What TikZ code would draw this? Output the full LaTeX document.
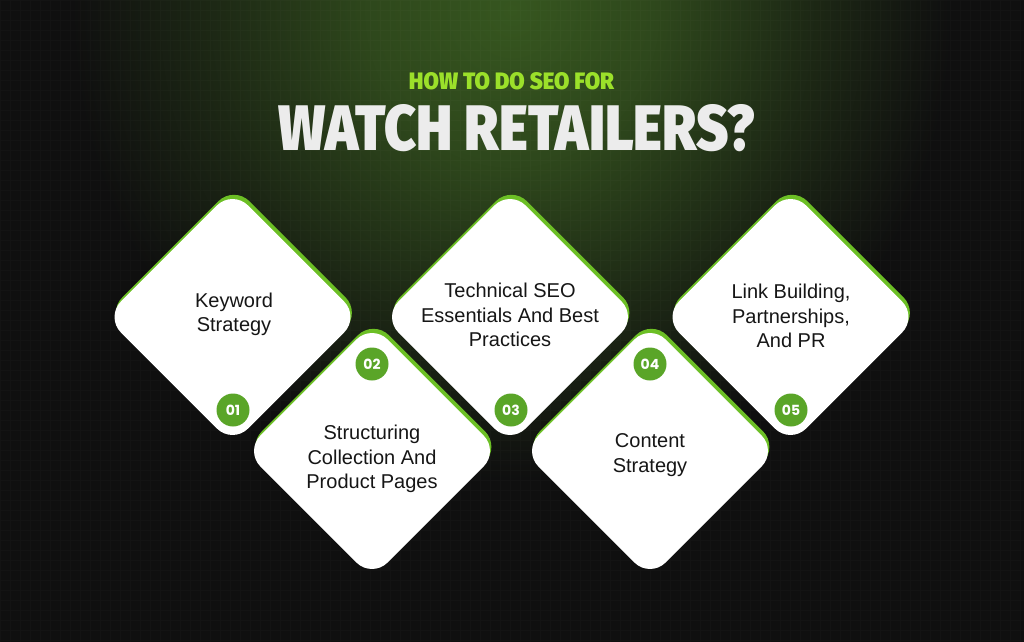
\documentclass[tikz,border=0pt]{standalone}
\usepackage{graphicx}
\usepackage{fontspec}
\setmainfont{Liberation Sans}
\newfontfamily\titlefont{Fira Sans Black}
\newfontfamily\badgefont{Poppins}
\usetikzlibrary{calc}
\definecolor{bg}{HTML}{0F0F0F}
\definecolor{glowc}{HTML}{36561F}
\definecolor{lime}{HTML}{9BE02A}
\definecolor{edgegreen}{HTML}{6CBF25}
\definecolor{badgegreen}{HTML}{5AA528}
\definecolor{ink}{HTML}{161616}
\definecolor{titlewhite}{HTML}{ECECEC}
\pgfdeclareradialshading{glow}{\pgfpoint{0bp}{0bp}}{color(0bp)=(glowc); color(8bp)=(glowc!80!bg); color(17bp)=(glowc!35!bg); color(25bp)=(bg); color(50bp)=(bg)}
\tikzset{
  card/.style={rectangle, rounded corners=16.5pt, minimum size=134.8pt, inner sep=0pt, rotate=45, fill=white},
  cardedge/.style={card, fill=edgegreen},
  cardtext/.style={align=center, text=ink, inner sep=0pt, font=\fontsize{15pt}{18.2pt}\selectfont},
  badge/.style={circle, fill=badgegreen, minimum size=24.75pt, inner sep=0pt, text=white, font=\badgefont\bfseries\fontsize{10.5pt}{11pt}\selectfont},
  headline/.style={anchor=south, inner sep=0pt}
}
\begin{document}
\begin{tikzpicture}[x=0.75pt,y=-0.75pt]
\useasboundingbox (0,0) rectangle (1024,642);
\fill[bg] (0,0) rectangle (1024,642);
\begin{scope}
  \clip (0,0) rectangle (1024,642);
  \shade[shading=glow] (512,10) ellipse [x radius=440, y radius=470];
  \draw[white, opacity=0.018, line width=0.4pt, step=7.5pt] (0,0) grid (1024,642);
\end{scope}
% title
\node[headline, text=lime] (sub) at (511.5,90) {\resizebox{153.75pt}{12.75pt}{\titlefont HOW TO DO SEO FOR}};
\node[headline, text=titlewhite] (title) at (516.5,152) {\resizebox{357.75pt}{34.5pt}{\titlefont WATCH RETAILERS?}};
% cards
\foreach \i/\x/\y in {1/232.5/317, 2/372/451, 3/510/317, 4/650/451, 5/790.5/317}{
  \node[cardedge] (e\i) at (\x+1.4,\y-4.2) {};
  \node[card] (d\i) at (\x,\y) {};
}
\node[cardtext] (t1) at (234,314) {Keyword\\Strategy};
\node[cardtext] (t2) at (372,459) {Structuring\\Collection And\\Product Pages};
\node[cardtext] (t3) at (510,315) {Technical SEO\\Essentials And Best\\Practices};
\node[cardtext] (t4) at (650,455) {Content\\Strategy};
\node[cardtext] (t5) at (791,316) {Link Building,\\Partnerships,\\And PR};
% badges
\node[badge] (b1) at (233,410) {01};
\node[badge] (b2) at (372,364) {02};
\node[badge] (b3) at (511,410) {03};
\node[badge] (b4) at (650,364) {04};
\node[badge] (b5) at (791,410) {05};
\end{tikzpicture}
\end{document}
